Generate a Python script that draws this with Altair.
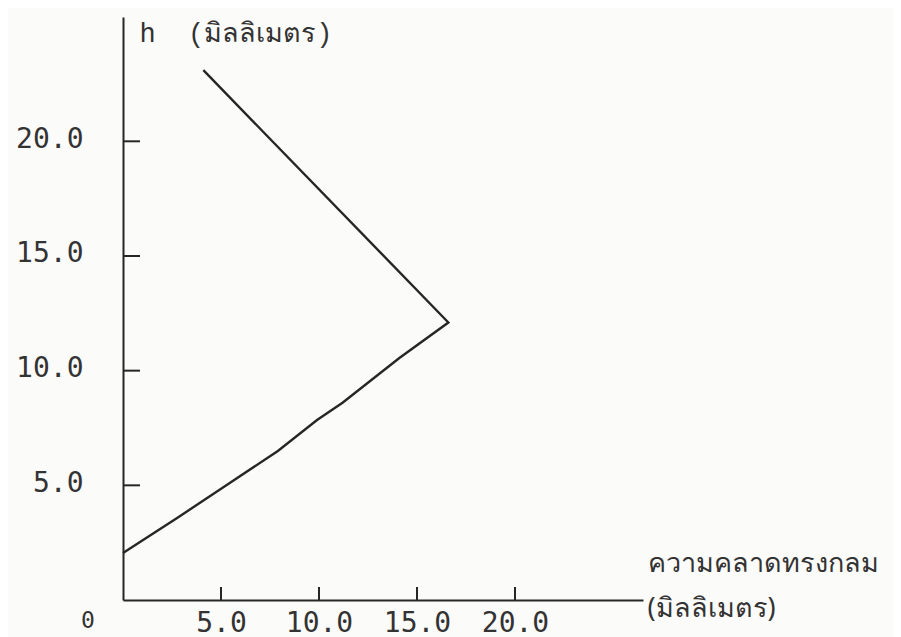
import altair as alt
import pandas as pd

# data
aberration = [0.0, 2.8, 5.1, 7.9, 9.9, 11.2, 14.1, 16.6, 4.1]
height_h = [2.05, 3.6, 4.9, 6.5, 7.85, 8.6, 10.55, 12.1, 23.1]
tick_vals = [5, 10, 15, 20]
x_title = ["ความคลาดทรงกลม", "(มิลลิเมตร)"]
y_title = "h\u00a0\u00a0(มิลลิเมตร)"
origin_label = ["0"]

W, H = 520, 583
X_DOM = [0, 26.53]
Y_DOM = [0, 25.42]
INK = "#262626"
TXT = "#333333"
MONO = "DejaVu Sans Mono"
THAI = "Noto Sans, DejaVu Sans, sans-serif"

curve = pd.DataFrame({"x": aberration, "h": height_h, "i": list(range(len(aberration)))})
ticks = pd.DataFrame({"v": tick_vals})
origin = pd.DataFrame({"x": [0], "h": [0], "t": origin_label})

xs = alt.Scale(domain=X_DOM, nice=False, zero=False)
ys = alt.Scale(domain=Y_DOM, nice=False, zero=False)

x_axis = alt.Axis(
    values=tick_vals, format=".1f", ticks=False, grid=False,
    domainColor=INK, domainWidth=2,
    labelFont=MONO, labelFontSize=28, labelColor=TXT, labelPadding=9,
    title=x_title, titleFont=THAI, titleFontSize=27, titleFontWeight="normal",
    titleColor=TXT, titleAlign="left", titleAnchor="start", titleBaseline="top",
    titleX=524, titleY=-50, titleLineHeight=45,
)
y_axis = alt.Axis(
    values=tick_vals, format=".1f", ticks=False, grid=False,
    domainColor=INK, domainWidth=2,
    labelFont=MONO, labelFontSize=28, labelColor=TXT, labelPadding=40,
    labelBaseline="middle", labelOffset=-2,
    title=y_title, titleFont="Liberation Mono, " + THAI, titleFontSize=27,
    titleFontWeight="normal", titleColor=TXT, titleAngle=0,
    titleAlign="left", titleBaseline="middle", titleX=16, titleY=16,
)

line = alt.Chart(curve).mark_line(color=INK, strokeWidth=2.4).encode(
    x=alt.X("x:Q", scale=xs, axis=x_axis),
    y=alt.Y("h:Q", scale=ys, axis=y_axis),
    order="i:Q",
)

xticks = alt.Chart(ticks).mark_rule(color=INK, strokeWidth=2).encode(
    x=alt.X("v:Q", scale=xs, axis=x_axis),
    y=alt.value(H),
    y2=alt.value(H - 13),
)

yticks = alt.Chart(ticks).mark_rule(color=INK, strokeWidth=2).encode(
    y=alt.Y("v:Q", scale=ys, axis=y_axis),
    x=alt.value(0),
    x2=alt.value(17),
)

orig = alt.Chart(origin).mark_text(font=MONO, fontSize=23, color=TXT, dx=-35, dy=21).encode(
    x=alt.X("x:Q", scale=xs, axis=x_axis),
    y=alt.Y("h:Q", scale=ys, axis=y_axis),
    text="t:N",
)

chart = alt.layer(line, xticks, yticks, orig).properties(
    width=W, height=H,
    autosize=alt.AutoSizeParams(type="none"),
    padding={"left": 115, "top": 9, "right": 250, "bottom": 37},
    background="#fbfbf9",
).configure_view(stroke=None)

chart.save("out.html", embed_options={"renderer": "svg", "actions": False})
